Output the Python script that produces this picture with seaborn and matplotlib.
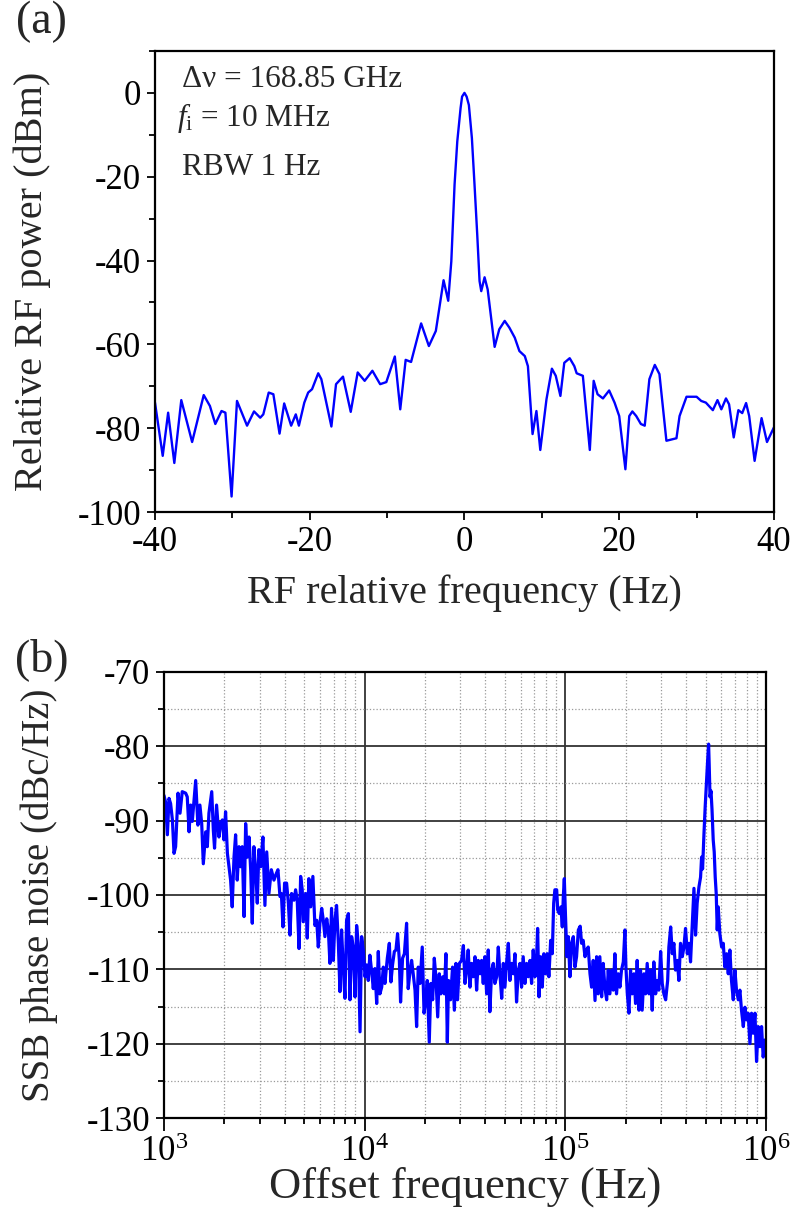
import numpy as np
import pandas as pd
import matplotlib
matplotlib.use('Agg')
import matplotlib.pyplot as plt
import seaborn as sns
from matplotlib.ticker import MultipleLocator, LogLocator, NullFormatter

# (a) RF beat spectrum
rf_offset = [-40.0, -39.0, -38.3, -37.5, -36.6, -35.2, -33.7, -32.9, -32.2, -31.4,
             -30.9, -30.1, -29.4, -28.1, -27.2, -26.4, -26.0, -25.3, -24.7, -23.9,
             -23.3, -22.4, -21.8, -21.4, -20.7, -20.2, -19.7, -18.9, -18.5, -17.2,
             -16.6, -15.7, -14.7, -13.8, -12.9, -11.9, -10.9, -10.1, -9.0, -8.3,
             -7.6, -6.9, -5.6, -4.6, -3.7, -2.7, -2.1, -1.7, -1.28, -0.93,
             -0.5, -0.31, 0.0, 0.28, 0.57, 0.96, 1.3, 1.65, 1.95, 2.17,
             2.6, 3.0, 3.9, 4.5, 5.2, 5.8, 6.5, 7.1, 7.8, 8.2,
             8.8, 9.3, 9.8, 10.6, 11.3, 11.8, 12.4, 12.9, 13.6, 14.2,
             14.5, 15.3, 16.2, 16.7, 17.2, 17.9, 18.7, 19.4, 20.0, 20.8,
             21.3, 21.7, 22.2, 22.8, 23.3, 23.9, 24.6, 25.2, 26.1, 27.4,
             27.8, 28.7, 30.0, 30.6, 31.2, 32.1, 32.7, 33.2, 33.8, 34.2,
             34.8, 35.4, 35.9, 36.4, 36.8, 37.5, 38.4, 39.1, 40.0]
rf_power = [-73.9, -86.6, -76.3, -88.3, -73.3, -83.3, -72.1, -74.7, -79.0, -75.9,
            -76.3, -96.3, -73.5, -79.4, -76.0, -77.5, -76.7, -71.5, -71.9, -81.3,
            -74.1, -79.4, -76.7, -79.4, -73.9, -71.5, -70.7, -66.9, -68.3, -79.6,
            -69.5, -67.7, -76.1, -66.7, -68.7, -66.3, -69.5, -69.0, -62.9, -75.5,
            -63.7, -64.2, -55.0, -60.4, -56.8, -44.7, -49.6, -40.2, -21.9, -11.6,
            -3.6, -0.9, 0.0, -0.9, -2.9, -10.8, -21.9, -33.8, -44.9, -47.3,
            -44.0, -46.9, -60.6, -56.4, -54.4, -56.0, -58.4, -61.6, -62.8, -65.2,
            -81.4, -75.9, -85.2, -73.1, -65.8, -67.5, -72.3, -64.4, -63.3, -65.2,
            -66.9, -67.5, -85.2, -68.7, -71.9, -72.9, -71.0, -73.9, -77.1, -89.8,
            -77.1, -76.0, -77.1, -79.0, -79.4, -68.3, -64.9, -67.1, -83.0, -82.4,
            -77.1, -72.5, -72.5, -73.5, -73.9, -75.7, -73.3, -75.5, -72.9, -74.3,
            -82.2, -75.7, -76.4, -74.0, -77.1, -87.8, -77.6, -83.3, -79.8]

# (b) SSB phase noise, offset given as log10(Hz)
offset_exp = [3.000, 3.008, 3.017, 3.025, 3.033, 3.042, 3.050, 3.058, 3.070, 3.080,
              3.091, 3.108, 3.116, 3.125, 3.133, 3.141, 3.158, 3.169, 3.179, 3.188,
              3.196, 3.208, 3.216, 3.224, 3.238, 3.246, 3.252, 3.262, 3.274, 3.282,
              3.291, 3.299, 3.307, 3.316, 3.324, 3.332, 3.340, 3.349, 3.357, 3.365,
              3.374, 3.382, 3.390, 3.399, 3.407, 3.415, 3.424, 3.432, 3.440, 3.448,
              3.457, 3.465, 3.473, 3.482, 3.493, 3.503, 3.512, 3.523, 3.535, 3.548,
              3.560, 3.568, 3.578, 3.585, 3.593, 3.601, 3.611, 3.620, 3.628, 3.636,
              3.648, 3.656, 3.664, 3.673, 3.681, 3.689, 3.694, 3.706, 3.714, 3.722,
              3.731, 3.742,
              3.752, 3.761, 3.769, 3.777, 3.786, 3.794, 3.802, 3.811, 3.819, 3.827,
              3.835, 3.844, 3.852, 3.860, 3.869, 3.877, 3.885, 3.894, 3.902, 3.910,
              3.919, 3.927, 3.935, 3.943, 3.952, 3.960, 3.968, 3.977, 3.985, 3.993,
              4.002, 4.010, 4.018, 4.026, 4.035, 4.043, 4.051, 4.060, 4.068, 4.076,
              4.085, 4.093, 4.101, 4.113, 4.123, 4.131, 4.139, 4.148, 4.156, 4.164,
              4.173, 4.179, 4.189, 4.198, 4.209, 4.217, 4.226, 4.234, 4.242, 4.251,
              4.259, 4.267, 4.276, 4.287, 4.296, 4.305, 4.312, 4.322, 4.330, 4.339,
              4.347, 4.355, 4.364, 4.372, 4.380, 4.389, 4.397, 4.405, 4.412, 4.418,
              4.428, 4.438, 4.447, 4.455, 4.463, 4.472,
              4.483, 4.492, 4.500, 4.508, 4.516, 4.525, 4.533, 4.541, 4.550, 4.558,
              4.566, 4.575, 4.583, 4.591, 4.599, 4.608, 4.616, 4.624, 4.633, 4.641,
              4.649, 4.658, 4.666, 4.674, 4.683, 4.691, 4.699, 4.707, 4.716, 4.724,
              4.732, 4.741, 4.749, 4.757, 4.766, 4.774, 4.782, 4.790, 4.799, 4.807,
              4.815, 4.824, 4.832, 4.840, 4.849, 4.857, 4.862, 4.869, 4.877, 4.885,
              4.893, 4.902, 4.910, 4.918, 4.927, 4.935, 4.942, 4.948, 4.957, 4.962,
              4.970, 4.978, 4.985, 4.990, 4.995, 5.001, 5.008, 5.015, 5.023, 5.031,
              5.040, 5.048, 5.056, 5.065, 5.074, 5.081, 5.089, 5.098, 5.106, 5.114,
              5.123, 5.131, 5.139, 5.148, 5.156, 5.164, 5.172, 5.181, 5.189, 5.197,
              5.206, 5.214, 5.222, 5.231, 5.239, 5.247, 5.255, 5.264, 5.272, 5.280,
              5.289, 5.297, 5.302, 5.309, 5.317, 5.325, 5.333, 5.342, 5.350, 5.358,
              5.367, 5.375, 5.383, 5.392, 5.400, 5.408, 5.417, 5.425, 5.433, 5.441,
              5.450, 5.458, 5.466, 5.475, 5.483, 5.491, 5.500, 5.510, 5.516, 5.525,
              5.533, 5.541, 5.549, 5.558, 5.566, 5.574, 5.583, 5.591, 5.599, 5.608,
              5.616, 5.624, 5.632, 5.641, 5.649, 5.657, 5.666, 5.674, 5.679, 5.684,
              5.691, 5.697, 5.704, 5.709, 5.714, 5.717, 5.721, 5.726, 5.731, 5.737,
              5.742, 5.747, 5.752, 5.757, 5.762, 5.770, 5.779, 5.787, 5.795, 5.804,
              5.812, 5.820, 5.828, 5.837, 5.845, 5.853, 5.862, 5.870, 5.878, 5.887,
              5.895, 5.903, 5.911, 5.920, 5.928, 5.936, 5.945, 5.953, 5.961, 5.970,
              5.978, 5.986, 5.995, 6.000]
ssb_noise = [-86.6, -87.5, -91.9, -87.0, -87.7, -89.9, -94.4, -93.5, -86.3, -89.0,
             -86.1, -86.3, -86.8, -91.5, -87.9, -90.1, -84.6, -90.6, -87.9, -90.4,
             -95.8, -91.5, -93.5, -89.0, -86.1, -91.3, -93.7, -87.9, -92.2, -90.4,
             -89.9, -92.6, -88.8, -94.4, -96.2, -98.0, -101.6, -94.9, -91.9, -98.0,
             -93.5, -96.2, -93.5, -102.9, -90.4, -94.9, -92.2, -96.6, -103.8, -93.5,
             -96.6, -101.1, -93.9, -96.2, -92.2, -101.4, -94.2, -99.8, -96.6, -98.0,
             -97.1, -96.6, -100.2, -99.8, -104.3, -98.4, -98.4, -101.1, -105.4, -99.8,
             -100.7, -99.3, -100.7, -107.2, -97.5, -99.3, -103.6, -99.8, -105.8, -97.8,
             -101.6, -97.5,
             -104.1, -103.4, -107.0, -103.8, -101.8, -103.4, -105.6, -103.2, -104.7, -109.2,
             -101.8, -108.8, -103.4, -101.4, -106.5, -113.0, -104.7, -110.1, -113.9, -103.4,
             -102.5, -114.1, -105.6, -107.0, -113.7, -104.1, -106.5, -118.4, -105.6, -107.4,
             -111.0, -109.4, -111.5, -108.1, -110.3, -112.6, -109.9, -114.6, -107.6, -113.3,
             -112.4, -109.7, -111.9, -108.5, -106.5, -111.7, -109.4, -107.6, -107.4, -105.2,
             -108.8, -114.4, -108.5, -107.9, -103.8, -112.6, -110.3, -108.8, -110.6, -112.8,
             -117.7, -109.7, -111.9, -107.0, -115.9, -114.1, -111.5, -119.8, -111.9, -114.1,
             -108.5, -111.0, -116.4, -110.6, -113.3, -111.0, -113.3, -107.9, -119.8, -111.5,
             -114.1, -109.7, -115.5, -109.2, -114.1, -109.2,
             -108.8, -106.8, -111.9, -110.1, -107.4, -112.4, -109.2, -111.0, -108.3, -112.8,
             -108.8, -110.6, -108.8, -111.9, -108.3, -113.3, -107.4, -115.7, -110.1, -109.2,
             -111.9, -111.0, -107.0, -110.6, -113.9, -109.2, -112.4, -109.2, -106.5, -111.5,
             -109.2, -110.6, -107.9, -114.4, -110.1, -109.2, -112.4, -108.3, -111.9, -109.2,
             -111.0, -108.8, -111.9, -107.4, -111.0, -108.3, -104.5, -113.7, -108.3, -112.4,
             -107.9, -110.6, -107.9, -111.0, -106.1, -107.9, -101.1, -99.3, -99.3, -102.0,
             -102.5, -101.6, -104.3, -100.2, -97.8, -102.9, -108.3, -105.6, -111.0, -106.5,
             -105.6, -109.7, -108.3, -104.7, -104.2, -106.5, -106.1, -108.3, -107.4, -107.0,
             -110.6, -112.4, -108.8, -114.2, -108.3, -113.3, -108.3, -113.7, -109.2, -112.4,
             -114.1, -110.1, -113.3, -110.1, -112.8, -107.9, -113.3, -110.6, -112.4, -110.1,
             -109.0, -104.7, -109.7, -113.3, -115.9, -110.1, -113.3, -110.6, -114.6, -108.8,
             -115.5, -110.1, -115.5, -110.6, -113.3, -109.2, -113.3, -110.1, -115.5, -109.0,
             -113.3, -111.5, -112.8, -107.6, -111.9, -113.3, -114.1, -111.5, -107.0, -104.3,
             -107.9, -106.5, -110.1, -108.8, -111.5, -106.5, -108.3, -107.0, -104.5, -107.9,
             -106.5, -109.0, -104.3, -99.1, -105.4, -101.1, -98.9, -97.6, -94.9, -96.5,
             -91.7, -88.1, -84.5, -82.0, -79.7, -82.5, -86.8, -86.0, -88.5, -92.6,
             -94.2, -97.6, -99.8, -104.7, -101.6, -105.2, -107.0, -106.5, -109.7, -107.9,
             -110.6, -107.4, -111.5, -114.1, -110.1, -112.8, -114.1, -112.8, -115.5, -117.7,
             -115.1, -116.8, -115.9, -120.0, -115.9, -118.6, -115.9, -122.4, -117.7, -120.4,
             -117.7, -121.8, -119.5, -121.0]

sns.set_style('ticks')
plt.rcParams['font.family'] = ['Liberation Serif', 'DejaVu Serif']
plt.rcParams['mathtext.fontset'] = 'custom'
plt.rcParams['mathtext.rm'] = 'Liberation Serif'
plt.rcParams['mathtext.it'] = 'Liberation Serif:italic'
plt.rcParams['axes.unicode_minus'] = False

fig = plt.figure(figsize=(7.96, 12.22), dpi=100)

# ---- (a)
ax1 = fig.add_axes([0.1947, 0.5810, 0.7776, 0.3773])
df_a = pd.DataFrame({'freq': rf_offset, 'power': rf_power})
sns.lineplot(data=df_a, x='freq', y='power', ax=ax1, color='#0000ff', lw=1.7, sort=False)
ax1.set_xlim(-40, 40)
ax1.set_ylim(-100, 10)
ax1.xaxis.set_major_locator(MultipleLocator(20))
ax1.xaxis.set_minor_locator(MultipleLocator(10))
ax1.yaxis.set_major_locator(MultipleLocator(20))
ax1.yaxis.set_minor_locator(MultipleLocator(10))
ax1.set_xlabel('RF relative frequency (Hz)', fontsize=29)
ax1.set_ylabel('Relative RF power (dBm)', fontsize=29)
ax1.xaxis.set_label_coords(0.5, -0.135)
ax1.yaxis.set_label_coords(-0.168, 0.5)
ax1.text(-36.5, 1.5, 'Δν = 168.85 GHz', fontsize=22.5)
ax1.text(-37.2, -7.9, r'$f_{\mathrm{i}}$ = 10 MHz', fontsize=22.5)
ax1.text(-36.5, -19.5, 'RBW 1 Hz', fontsize=22.5)

# ---- (b)
ax2 = fig.add_axes([0.2060, 0.0851, 0.7563, 0.3650])
df_b = pd.DataFrame({'freq': 10 ** np.array(offset_exp), 'noise': ssb_noise})
sns.lineplot(data=df_b, x='freq', y='noise', ax=ax2, color='#0000ff', lw=2.3, sort=False)
ax2.set_xscale('log')
ax2.set_xlim(1e3, 1e6)
ax2.set_ylim(-130, -70)
ax2.xaxis.set_major_locator(LogLocator(base=10))
ax2.xaxis.set_minor_locator(LogLocator(base=10, subs=np.arange(2, 10)))
ax2.xaxis.set_minor_formatter(NullFormatter())
ax2.yaxis.set_major_locator(MultipleLocator(10))
ax2.yaxis.set_minor_locator(MultipleLocator(5))
ax2.grid(which='major', color='#333333', lw=1.3, ls='-')
ax2.grid(which='minor', color='#999999', lw=0.9, ls=':')
ax2.set_axisbelow(True)
ax2.set_xlabel('Offset frequency (Hz)', fontsize=32)
ax2.set_ylabel('SSB phase noise (dBc/Hz)', fontsize=28)
ax2.xaxis.set_label_coords(0.5, -0.108)
ax2.yaxis.set_label_coords(-0.176, 0.5)

for ax in (ax1, ax2):
    for s in ax.spines.values():
        s.set_linewidth(1.6)
        s.set_color('black')
    ax.tick_params(which='both', direction='out', width=1.3, labelsize=25, pad=4, colors='black')
    ax.tick_params(which='major', length=6)
    ax.tick_params(which='minor', length=4)
ax2.tick_params(axis='x', which='major', length=9)

fig.text(0.052, 0.982, '(a)', fontsize=33, ha='center', va='center')
fig.text(0.052, 0.460, '(b)', fontsize=33, ha='center', va='center')

fig.savefig('out.png', dpi=100)
